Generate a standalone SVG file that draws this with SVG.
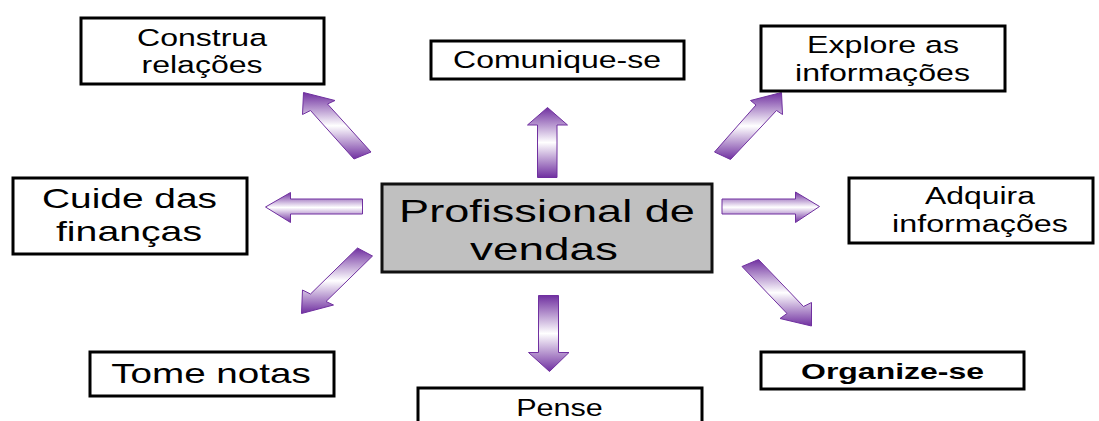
<svg xmlns="http://www.w3.org/2000/svg" width="1099" height="421" viewBox="0 0 1099 421">
<defs>
<linearGradient id="g" x1="0" y1="0" x2="0" y2="1">
<stop offset="0" stop-color="#7030A0"/>
<stop offset="0.5" stop-color="#ffffff"/>
<stop offset="1" stop-color="#7030A0"/>
</linearGradient>
<style>
.box{fill:#fff;stroke:#000;stroke-width:3}
.center{fill:#C0C0C0;stroke:#111;stroke-width:3}
.t{font-family:"Liberation Sans",Arial,sans-serif;fill:#000;text-anchor:middle}
.arr{fill:url(#g);stroke:#7030A0;stroke-width:1;stroke-linejoin:miter}
</style>
</defs>
<rect width="1099" height="421" fill="#fff"/>
<g id="connectors">
<polygon class="arr" points="303.5,92.5 335,100.5 327.5,104 371,152 354,159 310.5,110.5 302.5,114.5"/>
<polygon class="arr" points="547.5,107.5 567.5,125 557,125 557,177.5 537.5,177.5 537.5,125 527.5,125"/>
<polygon class="arr" points="781.5,92.5 782.5,114.5 776.5,110.5 730.5,159.5 714.5,152 756,105 750.5,100.5"/>
<polygon class="arr" points="265.5,207 290.5,192.5 290.5,199 362.5,199 362.5,214 290.5,214 290.5,222.5"/>
<polygon class="arr" points="722,199 795.5,199 795.5,192 819.5,206.5 795.5,222.5 795.5,214 722,214"/>
<polygon class="arr" points="357.5,248 372.5,256 326,301.5 333.5,305 301.5,313.5 302.5,290 310.5,294"/>
<polygon class="arr" points="538.5,295.5 558.5,295.5 558.5,352.5 569,352.5 549.5,371.5 528.5,352.5 538.5,352.5"/>
<polygon class="arr" points="742,266.5 758.5,259.5 803.5,306.5 811.5,302.5 811.5,326 780,318.5 787,313.5"/>
</g>
<g id="center">
<rect class="center" x="382" y="184" width="330" height="88"/>
<text class="t" font-size="32" transform="translate(547,222) scale(1.41,1)">Profissional de</text>
<text class="t" font-size="32" transform="translate(544,260) scale(1.434,1)">vendas</text>
</g>
<g id="construa">
<rect class="box" x="81" y="18" width="243" height="66"/>
<text class="t" font-size="23.5" transform="translate(202,46) scale(1.364,1)">Construa</text>
<text class="t" font-size="23.5" transform="translate(202,73) scale(1.363,1)">relações</text>
</g>
<g id="comunique">
<rect class="box" x="431" y="41" width="253" height="38"/>
<text class="t" font-size="23.5" transform="translate(557,68) scale(1.361,1)">Comunique-se</text>
</g>
<g id="explore">
<rect class="box" x="761" y="26" width="244" height="65"/>
<text class="t" font-size="23.5" transform="translate(883,53) scale(1.369,1)">Explore as</text>
<text class="t" font-size="23.5" transform="translate(882.5,81) scale(1.367,1)">informações</text>
</g>
<g id="cuide">
<rect class="box" x="13" y="178" width="234" height="76"/>
<text class="t" font-size="27.5" transform="translate(129.5,208) scale(1.414,1)">Cuide das</text>
<text class="t" font-size="27.5" transform="translate(129,241) scale(1.426,1)">finanças</text>
</g>
<g id="adquira">
<rect class="box" x="849" y="178" width="244" height="65"/>
<text class="t" font-size="23.5" transform="translate(980,204) scale(1.358,1)">Adquira</text>
<text class="t" font-size="23.5" transform="translate(980,232) scale(1.375,1)">informações</text>
</g>
<g id="tome">
<rect class="box" x="90" y="352" width="244" height="44"/>
<text class="t" font-size="28" transform="translate(211,383) scale(1.38,1)">Tome notas</text>
</g>
<g id="organize">
<rect class="box" x="761" y="352" width="263" height="37"/>
<text class="t" font-size="22.5" font-weight="bold" transform="translate(892.5,379) scale(1.42,1)">Organize-se</text>
</g>
<g id="pense">
<rect class="box" x="418" y="388" width="284" height="60"/>
<text class="t" font-size="23" transform="translate(559.5,416) scale(1.33,1)">Pense</text>
</g>
</svg>
